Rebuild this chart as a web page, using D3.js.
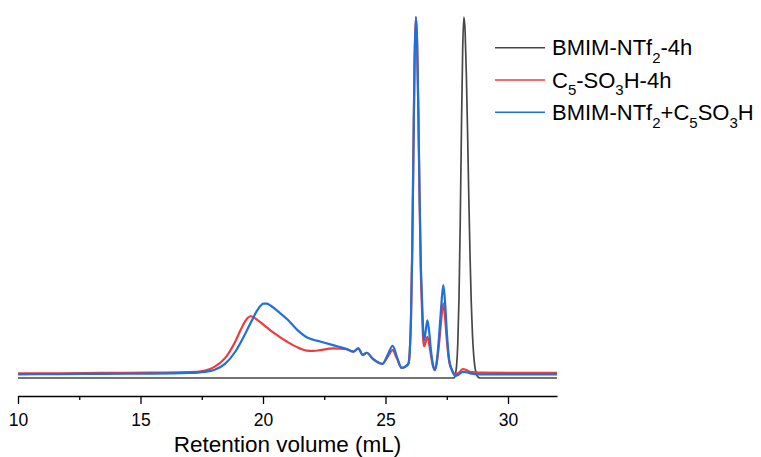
<!DOCTYPE html>
<html>
<head>
<meta charset="utf-8">
<script src="https://cdn.jsdelivr.net/npm/d3@7"></script>
<style>
  html, body { margin: 0; padding: 0; background: #fff; }
  svg { display: block; font-family: Arial, "Liberation Sans", sans-serif; }
</style>
</head>
<body>
<svg id="chart" width="761" height="457"></svg>
<script>
// ---- data (retention volume mL, relative intensity) ----
const seriesNames = ["BMIM-NTf2-4h", "C5-SO3H-4h", "BMIM-NTf2+C5SO3H"];
const xTicks = [10, 15, 20, 25, 30];
const xMinorTicks = [12.5, 17.5, 22.5, 27.5];
const xLabel = "Retention volume (mL)";

const blackData = [
  [10,0],[15,0],[20,0],[25,0],[27.8,0],[27.85,1],[27.9,3.3],[27.95,9.4],[28.0,22],[28.05,43],
  [28.1,69],[28.15,91],[28.2,100],[28.25,96],[28.3,84],[28.35,68],[28.4,50],[28.45,34],
  [28.5,21],[28.55,12],[28.6,6.3],[28.65,3],[28.7,1.3],[28.75,0.5],[28.85,0],[32,0]
];

const redData = [
  [10,1.3],[11.7,1.3],[13.4,1.4],[15.4,1.5],[17.0,1.6],[17.6,2.0],[18.0,3.0],[18.45,5.5],
  [18.86,10],[19.1,13.5],[19.27,15.7],[19.38,16.7],[19.5,17.1],[19.62,16.8],[19.75,16.2],
  [19.9,15.4],[20.1,14.3],[20.3,13.2],[20.5,12.2],[20.69,11.3],[21.0,10.0],[21.22,9.1],
  [21.5,8.2],[21.78,7.6],[22.05,7.5],[22.33,7.7],[22.86,8.2],
  [23.42,8.0],[23.69,7.3],[23.89,8.2],[24.07,6.4],[24.23,7.0],[24.5,5.2],[24.87,3.9],
  [25.1,6.0],[25.29,7.7],[25.47,5.3],[25.66,2.8],[25.84,3.3],[25.94,4.1],[25.99,7.4],
  [26.04,16.5],[26.09,35],[26.14,63],[26.19,89],[26.24,100],[26.29,93],[26.34,74],[26.39,50],
  [26.44,30],[26.49,19],[26.54,10.5],[26.58,8.8],[26.64,10],[26.71,11.4],[26.78,9.5],
  [26.85,6.5],[26.93,3.5],[27.02,2.2],[27.1,4.5],[27.18,9],[27.26,15],[27.36,20.7],[27.44,16],
  [27.51,10],[27.6,4.5],[27.71,2.3],[27.84,1.1],[28.0,1.5],[28.16,2.5],[28.3,2.2],[28.45,1.7],
  [28.86,1.5],[30.5,1.4],[32,1.4]
];

const blueData = [
  [10,1.0],[11.7,1.1],[13.4,1.15],[15.4,1.2],[17.0,1.4],[17.6,1.7],[18.0,2.2],[18.45,3.9],
  [18.86,7.2],[19.27,12.2],[19.55,16.0],[19.75,18.6],[19.9,20.0],[20.02,20.6],[20.15,20.6],
  [20.3,20.1],[20.5,19.1],[20.69,18.0],[21.0,16.2],[21.22,14.6],[21.5,12.7],[21.78,11.3],
  [22.05,10.6],[22.33,10.1],[22.86,9.1],
  [23.42,8.0],[23.69,7.3],[23.89,8.2],[24.07,6.4],[24.23,7.0],[24.5,5.2],[24.87,3.9],
  [25.1,6.6],[25.29,8.9],[25.47,5.8],[25.66,2.8],[25.84,3.3],[25.94,4.1],[25.99,7.4],
  [26.04,16.5],[26.09,35],[26.14,63],[26.19,89],[26.24,100],[26.29,93],[26.34,74],[26.39,51],
  [26.44,32],[26.49,22],[26.54,13],[26.58,10.5],[26.64,13],[26.71,16],[26.78,13],[26.85,8],
  [26.93,4],[27.02,2.2],[27.1,5],[27.18,11],[27.26,18.5],[27.36,25.7],[27.44,20],[27.51,12],
  [27.6,5],[27.71,2.2],[27.84,0.6],[28.0,1.0],[28.16,1.7],[28.3,1.6],[28.45,1.3],[28.86,1.0],
  [30.5,1.0],[32,1.0]
];

const colors = ["#474747", "#ee3b3b", "#1f6fdc"];

// ---- drawing ----
const svg = d3.select("#chart");
const x = d3.scaleLinear().domain([10, 32]).range([18, 557]);
const y = d3.scaleLinear().domain([0, 100]).range([378, 17]);
const axisY = 396;

const line = d3.line()
  .x(d => x(d[0]))
  .y(d => y(d[1]))
  .curve(d3.curveMonotoneX);

const allSeries = [blackData, redData, blueData];
const widths = [1.7, 2.2, 2.2];
allSeries.forEach((data, i) => {
  svg.append("path")
    .datum(data)
    .attr("fill", "none")
    .attr("stroke", colors[i])
    .attr("stroke-width", widths[i])
    .attr("stroke-linejoin", "round")
    .attr("d", line);
});

// axis
const gMinor = svg.append("g")
  .attr("transform", `translate(0,${axisY})`)
  .call(d3.axisBottom(x).tickValues(xMinorTicks).tickSize(4).tickSizeOuter(0).tickFormat(""));
gMinor.select(".domain").remove();
gMinor.selectAll("line").attr("stroke", "#000").attr("stroke-width", 1.3);

const gAxis = svg.append("g")
  .attr("transform", `translate(0,${axisY})`)
  .call(d3.axisBottom(x).tickValues(xTicks).tickSize(8).tickSizeOuter(0).tickFormat(d3.format("d")));
gAxis.select(".domain").attr("stroke", "#000").attr("stroke-width", 1.3);
gAxis.selectAll("line").attr("stroke", "#000").attr("stroke-width", 1.3);
gAxis.selectAll("text")
  .attr("y", 30).attr("dy", 0)
  .attr("fill", "#000")
  .style("font-size", "17.5px")
  .style("font-family", 'Arial, "Liberation Sans", sans-serif');

svg.append("text")
  .attr("x", (x(10) + x(32)) / 2)
  .attr("y", 452)
  .attr("text-anchor", "middle")
  .style("font-size", "22.5px")
  .attr("fill", "#000")
  .text(xLabel);

// legend with subscripts
const legendParts = [
  [["BMIM-NTf", false], ["2", true], ["-4h", false]],
  [["C", false], ["5", true], ["-SO", false], ["3", true], ["H-4h", false]],
  [["BMIM-NTf", false], ["2", true], ["+C", false], ["5", true], ["SO", false], ["3", true], ["H", false]]
];
const legendRowsY = [47.7, 80, 112.3];
legendParts.forEach((parts, i) => {
  const ly = legendRowsY[i];
  svg.append("line")
    .attr("x1", 495).attr("x2", 545)
    .attr("y1", ly).attr("y2", ly)
    .attr("stroke", colors[i]).attr("stroke-width", 1.5);
  const t = svg.append("text")
    .attr("x", 552).attr("y", ly + 7.7)
    .style("font-size", "22px")
    .attr("fill", "#000");
  let shifted = false;
  parts.forEach(([s, sub]) => {
    const ts = t.append("tspan").text(s);
    if (sub && !shifted) { ts.attr("dy", 7.5).style("font-size", "15px"); shifted = true; }
    else if (sub) { ts.style("font-size", "15px"); }
    else if (!sub && shifted) { ts.attr("dy", -7.5); shifted = false; }
  });
});
</script>
</body>
</html>
